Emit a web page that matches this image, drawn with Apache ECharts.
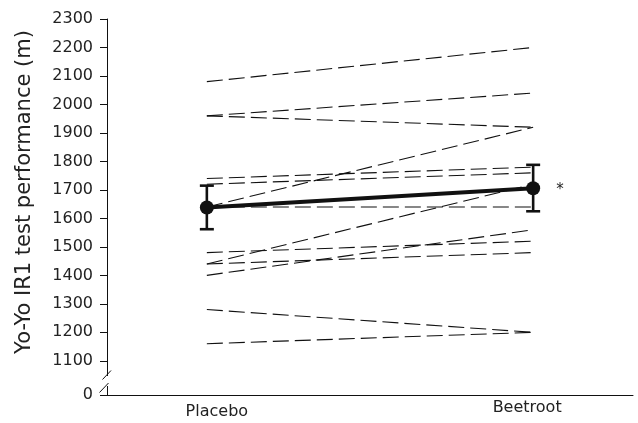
<!DOCTYPE html>
<html>
<head>
<meta charset="utf-8">
<script src="https://cdn.jsdelivr.net/npm/echarts@6/dist/echarts.min.js"></script>
<style>html,body{margin:0;padding:0;background:#fff}#c{width:638px;height:423px}</style>
</head>
<body>
<div id="c"></div>
<script>
// Data
const categories = ['Placebo', 'Beetroot'];
const placebo  = [2080, 1960, 1960, 1740, 1720, 1640, 1640, 1440, 1480, 1440, 1400, 1280, 1160];
const beetroot = [2200, 2040, 1920, 1780, 1760, 1920, 1640, 1720, 1520, 1480, 1560, 1200, 1200];
const meanValues = [1638, 1706];
const errHigh = [1715, 1788];
const errLow = [1562, 1625];
const yTickValues = [980, 1100, 1200, 1300, 1400, 1500, 1600, 1700, 1800, 1900, 2000, 2100, 2200, 2300];
const yTickLabels = ['0', '1100', '1200', '1300', '1400', '1500', '1600', '1700', '1800', '1900', '2000', '2100', '2200', '2300'];
const yTitle = 'Yo-Yo IR1 test performance (m)';

const chart = echarts.init(document.getElementById('c'), null, {renderer: 'canvas'});
const font = 'DejaVu Sans';
const series = [];
placebo.forEach((p, i) => {
  series.push({
    type: 'line', silent: true, symbol: 'none',
    data: [[0, p], [1, beetroot[i]]],
    lineStyle: {color: '#111', width: 1.1, type: [16, 6]},
    z: 2
  });
});
series.push({
  type: 'line', silent: true,
  data: meanValues.map((m, i) => ({value: [i, m], label: i === 1 ? {show: true, formatter: '*', position: 'right', distance: 16, fontSize: 15, color: '#222', fontFamily: font, offset: [0, 2]} : {show: false}})),
  symbol: 'circle', symbolSize: 14,
  itemStyle: {color: '#111'},
  lineStyle: {color: '#111', width: 4},
  z: 5
});
series.push({
  type: 'custom', silent: true,
  data: meanValues.map((m, i) => [i, errLow[i], errHigh[i]]),
  renderItem: (params, api) => {
    const lo = api.coord([api.value(0), api.value(1)]);
    const hi = api.coord([api.value(0), api.value(2)]);
    const w = 7;
    const st = {stroke: '#111', lineWidth: 2.6};
    return {type: 'group', children: [
      {type: 'line', shape: {x1: lo[0], y1: lo[1], x2: hi[0], y2: hi[1]}, style: st},
      {type: 'line', shape: {x1: lo[0] - w, y1: lo[1], x2: lo[0] + w, y2: lo[1]}, style: st},
      {type: 'line', shape: {x1: hi[0] - w, y1: hi[1], x2: hi[0] + w, y2: hi[1]}, style: st}
    ]};
  },
  z: 4
});

chart.setOption({
  animation: false,
  grid: {left: 107, right: 5, top: 19, bottom: 28, containLabel: false},
  xAxis: {
    type: 'value', min: -0.306, max: 1.306,
    splitLine: {show: false},
    axisLine: {show: true, onZero: false, lineStyle: {color: '#111', width: 1}},
    axisTick: {show: false},
    axisLabel: {
      customValues: [0, 1], margin: 5, color: '#222', fontFamily: font, fontSize: 16,
      formatter: v => v === 0 ? '{a|' + categories[0] + '}' : '{b|' + categories[1] + '}',
      rich: {
        a: {fontFamily: font, fontSize: 16, color: '#222', padding: [4, 0, 0, 20]},
        b: {fontFamily: font, fontSize: 16, color: '#222', padding: [0, 12, 0, 0]}
      }
    }
  },
  yAxis: {
    type: 'value', min: 980, max: 2300,
    name: yTitle, nameLocation: 'middle', nameGap: 72, nameRotate: 90,
    nameTextStyle: {fontFamily: font, fontSize: 21, color: '#222', padding: [0, 0, 0, 30]},
    splitLine: {show: false},
    axisLine: {show: true, onZero: false, lineStyle: {color: '#111', width: 1}},
    axisTick: {show: true, inside: false, customValues: yTickValues, length: 7, lineStyle: {color: '#111', width: 1}},
    axisLabel: {
      customValues: yTickValues, margin: 14, color: '#222', fontFamily: font, fontSize: 16,
      formatter: v => yTickLabels[yTickValues.indexOf(v)]
    }
  },
  graphic: [
    {type: 'rect', shape: {x: 104, y: 376, width: 6, height: 10}, style: {fill: '#fff'}, z: 100},
    {type: 'line', shape: {x1: 102.5, y1: 379.5, x2: 111, y2: 370.5}, style: {stroke: '#111', lineWidth: 1}, z: 101},
    {type: 'line', shape: {x1: 99.5, y1: 392.5, x2: 108.5, y2: 383}, style: {stroke: '#111', lineWidth: 1}, z: 101}
  ],
  series: series
});
</script>
</body>
</html>
